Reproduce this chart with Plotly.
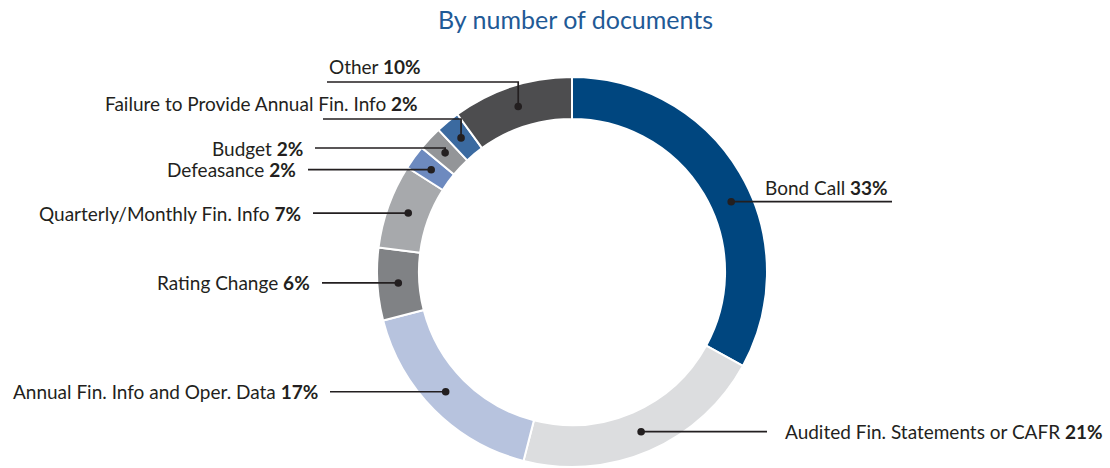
import math
import plotly.graph_objects as go

# ---- data ----
categories = ["Bond Call", "Audited Fin. Statements or CAFR", "Annual Fin. Info and Oper. Data",
              "Rating Change", "Quarterly/Monthly Fin. Info", "Defeasance", "Budget",
              "Failure to Provide Annual Fin. Info", "Other"]
values = [33, 21, 17, 6, 7, 2, 2, 2, 10]
colors = ["#00467f", "#dcdddf", "#b7c3de", "#808285", "#a7a9ac", "#6d8abf", "#939598",
          "#3b6aa0", "#4d4d4f"]

# ---- layout / styling of the labels (pixel space) ----
W, H = 1110, 468
CX, CY, R_OUT = 572, 272, 195
HOLE = 0.785
R_MID = R_OUT * (1 + HOLE) / 2
# position of the dot inside slice (fraction of slice angle)
dot_frac = [0.557, 0.5, 0.525, 0.5, 0.5, 0.5, 0.5, 0.5, 0.5]
# leader line: elbow y (None = horizontal from dot), end x
line_y = [None, None, None, None, None, None, 148, 119, 82]
end_x = [892, 767, 330, 322, 313, 308, 315, 323, 327]
# text placement
text_x = [890, 783, 320, 312, 303, 298, 305, 420, 327]
text_y = [187, None, None, None, None, None, 148, 103, 66]
text_anchor = ["right", "left", "right", "right", "right", "right", "right", "right", "left"]

LINE_COLOR = "#231f20"
FONT = "Lato"
DOT_R = 3.8

fig = go.Figure()

fig.add_trace(go.Pie(
    labels=categories, values=values, sort=False, direction="clockwise", rotation=0,
    hole=HOLE, marker=dict(colors=colors, line=dict(color="white", width=2)),
    textinfo="none", hoverinfo="label+percent", showlegend=False,
    domain=dict(x=[(CX - R_OUT) / W, (CX + R_OUT) / W],
                y=[(H - (CY + R_OUT)) / H, (H - (CY - R_OUT)) / H]),
))

total = sum(values)
cum = 0
for i, v in enumerate(values):
    ang = (cum + v * dot_frac[i]) / total * 2 * math.pi
    cum += v
    dx = CX + R_MID * math.sin(ang)
    dy = CY - R_MID * math.cos(ang)
    ly = dy if line_y[i] is None else line_y[i]
    fig.add_shape(type="path", xref="x", yref="y", layer="above",
                  path=f"M {dx},{dy} L {dx},{ly} L {end_x[i]},{ly}",
                  line=dict(color=LINE_COLOR, width=1.7))
    fig.add_shape(type="circle", xref="x", yref="y", layer="above",
                  x0=dx - DOT_R, x1=dx + DOT_R, y0=dy - DOT_R, y1=dy + DOT_R,
                  fillcolor=LINE_COLOR, line=dict(width=0))
    ty = ly if text_y[i] is None else text_y[i]
    fig.add_annotation(
        x=text_x[i], y=ty, xref="x", yref="y", showarrow=False,
        text=f"{categories[i]} <b>{v}%</b>", xanchor=text_anchor[i], yanchor="middle",
        font=dict(family=FONT, size=19, color=LINE_COLOR))

fig.add_annotation(
    x=575, y=19, xref="x", yref="y", showarrow=False, text="By number of documents",
    xanchor="center", yanchor="middle",
    font=dict(family=FONT, size=25, color="#1f5a96"))

fig.update_layout(
    width=W, height=H, margin=dict(l=0, r=0, t=0, b=0),
    paper_bgcolor="white", plot_bgcolor="rgba(0,0,0,0)",
    xaxis=dict(range=[0, W], visible=False, fixedrange=True),
    yaxis=dict(range=[H, 0], visible=False, fixedrange=True),
)

fig.write_html("out.html")
